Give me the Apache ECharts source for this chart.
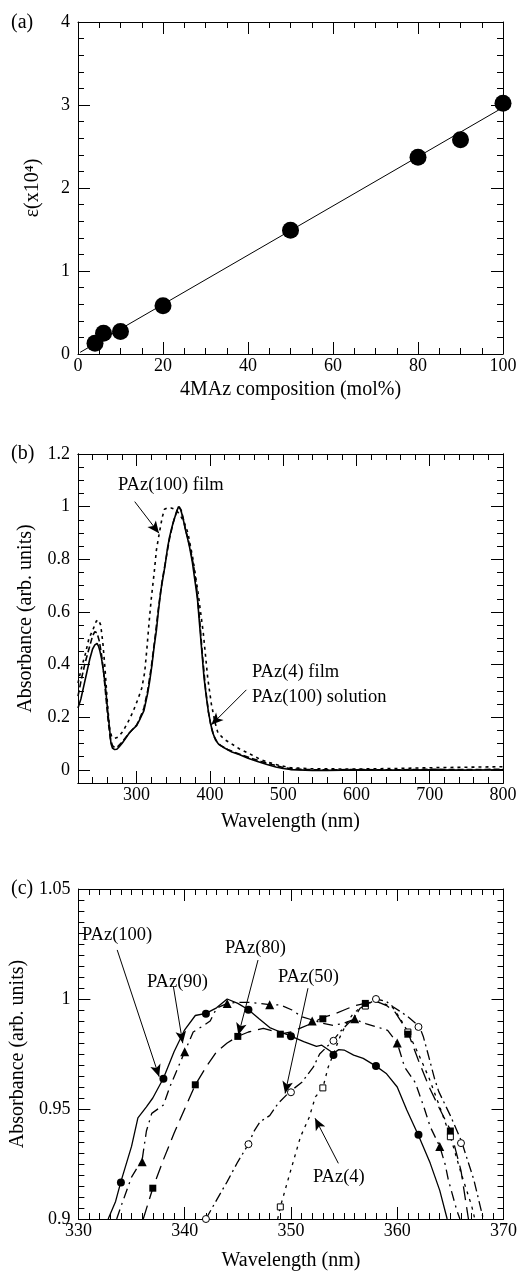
<!DOCTYPE html>
<html><head><meta charset="utf-8">
<script src="https://cdn.jsdelivr.net/npm/echarts@6/dist/echarts.min.js"></script>
<style>html,body{margin:0;padding:0;background:#fff}#c{width:520px;height:1272px}</style>
</head><body><div id="c"></div>
<script>
const FONT = '"Liberation Serif","DejaVu Serif","Times New Roman",serif';

// ---------- Panel (a) ----------
const aComposition = [4, 6, 10, 20, 50, 80, 90, 100];
const aEpsilon = [0.13, 0.25, 0.27, 0.58, 1.49, 2.37, 2.58, 3.02];
const aFitX = [0.5, 100];
const aFitY = [0.02, 2.97];
const aXTicks = [0, 20, 40, 60, 80, 100];
const aYTicks = [0, 1, 2, 3, 4];

// ---------- Panel (b) ----------
const bFilm4Wl = [220,224,228,232,236,240,243,246,248,250,252,255,258,261,263,265,267,270,273,276,280,285,290,295,300,305,310,315,318,321,324,327,330,333,336,339,342,345,348,351,354,357,360,363,366,369,372,376,380,383,386,389,392,395,398,401,404,408,412,420,430,440,452,465,478,490,500,510,520,540,560,600,650,700,750,800];
const bFilm4Abs = [0.235,0.27,0.32,0.37,0.42,0.46,0.475,0.48,0.47,0.45,0.425,0.37,0.30,0.21,0.16,0.10,0.083,0.077,0.078,0.087,0.10,0.12,0.14,0.155,0.168,0.195,0.225,0.29,0.34,0.40,0.47,0.53,0.61,0.68,0.73,0.78,0.84,0.885,0.92,0.95,0.975,1.0,0.99,0.96,0.92,0.885,0.85,0.79,0.71,0.65,0.55,0.45,0.35,0.28,0.22,0.175,0.14,0.112,0.097,0.083,0.068,0.058,0.044,0.032,0.02,0.011,0.005,0.001,0,-0.002,-0.002,0,-0.001,0,-0.001,0];
const bSol100Wl = [220,225,230,236,240,243,246,249,252,255,258,261,264,267,270,275,280,290,300,305,310,315,320,325,330,335,340,345,350,355,358,361,364,367,370,374,378,382,386,390,394,398,402,406,410,415,425,440,455,470,485,500,515,530,560,600,650,700,750,800];
const bSol100Abs = [0.28,0.35,0.41,0.47,0.51,0.525,0.52,0.49,0.44,0.37,0.28,0.19,0.12,0.092,0.085,0.09,0.105,0.14,0.17,0.2,0.235,0.30,0.39,0.50,0.62,0.72,0.80,0.88,0.94,0.985,1.0,0.985,0.95,0.91,0.88,0.83,0.77,0.69,0.57,0.43,0.31,0.22,0.16,0.125,0.105,0.092,0.076,0.06,0.045,0.032,0.02,0.009,0.003,0.001,0,0.001,0,0.002,0.001,0.002];
const bFilm100Wl = [220,225,230,235,240,245,248,251,254,257,260,263,266,270,275,281,288,295,302,307,311,314,317,320,324,327,331,335,338,342,347,352,356,360,365,370,377,384,391,397,402,407,411,420,429,440,452,470,490,510,540,600,650,700,750,800];
const bFilm100Abs = [0.33,0.39,0.44,0.50,0.53,0.565,0.57,0.55,0.48,0.38,0.26,0.16,0.125,0.12,0.125,0.145,0.18,0.22,0.27,0.31,0.37,0.46,0.56,0.65,0.75,0.835,0.90,0.96,0.99,0.995,0.995,0.99,0.98,0.965,0.94,0.90,0.80,0.67,0.52,0.35,0.25,0.18,0.14,0.115,0.10,0.08,0.064,0.038,0.02,0.008,0.004,0.003,0.005,0.008,0.01,0.012];
const bXTicks = [300, 400, 500, 600, 700, 800];
const bYTicks = [0, 0.2, 0.4, 0.6, 0.8, 1, 1.2];
const bArrows = [[[297.4, 1.019], [330.5, 0.899]], [[449.8, 0.304], [402.0, 0.171]]];

// ---------- Panel (c) ----------
const c100Wl = [332.8,333.5,334,335,335.6,336.4,337,338,339,340,341,342,343,344,345,346,347,348,349,350,351.2,352.4,352.9,354,354.5,355,355.9,356.8,358,359,360,360.9,362,363.1,364,364.7];
const c100Abs = [0.9,0.908,0.917,0.933,0.946,0.951,0.955,0.964,0.976,0.986,0.9925,0.9935,0.996,1.0,0.998,0.9951,0.991,0.987,0.985,0.9831,0.9806,0.9785,0.979,0.9753,0.977,0.9768,0.9745,0.973,0.9695,0.966,0.960,0.9495,0.938,0.9254,0.913,0.9];
const c100MarkWl = [334,338,342,346,350,354,358,362];
const c100MarkAbs = [0.9166,0.9637,0.9933,0.9951,0.9831,0.9746,0.9695,0.9383];
const c90Wl = [333.6,334.1,335,336,336.4,336.9,338,338.6,339.3,340,340.8,341.8,342.4,343,344,345,346,347,348,349,350.1,351,352,353,354,355,356,357.1,358.3,359.1,360,360.7,361.7,362.5,363.1,364,364.5,364.8,365.6,365.9];
const c90Abs = [0.9,0.907,0.919,0.927,0.94,0.948,0.9518,0.960,0.968,0.976,0.985,0.988,0.990,0.9958,0.998,0.9985,0.9985,0.998,0.9974,0.9973,0.995,0.992,0.9905,0.989,0.988,0.989,0.9908,0.9887,0.987,0.9857,0.980,0.969,0.962,0.951,0.942,0.933,0.925,0.918,0.904,0.9];
const c90MarkWl = [336,340,344,348,352,356,360,364];
const c90MarkAbs = [0.926,0.976,0.998,0.9974,0.990,0.991,0.980,0.933];
const c80Wl = [336.1,337,338,339,340,341,342,343,344,345,346,347.4,348.7,349,350,351,352,353,354,355,356,357,358,359,359.8,361,362,363,364,365,366,366.7];
const c80Abs = [0.9,0.914,0.927,0.939,0.950,0.961,0.969,0.976,0.980,0.983,0.985,0.9866,0.985,0.984,0.985,0.987,0.989,0.9917,0.993,0.995,0.997,0.998,0.999,0.997,0.994,0.985,0.972,0.960,0.950,0.9405,0.922,0.9];
const c80MarkWl = [337,341,345,349,353,357,361,365];
const c80MarkAbs = [0.914,0.961,0.983,0.984,0.991,0.998,0.984,0.940];
const c50Wl = [342,343,344,345,346,346.5,347.1,348,348.8,349.9,351,352.1,352.7,354,354.6,355.4,355.9,356.5,358,359,359.6,361,362.1,362.45,362.9,363.5,363.9,365,366.07,366.4,367.2,368.1];
const c50Abs = [0.9,0.9086,0.917,0.926,0.934,0.9397,0.9442,0.947,0.9526,0.9579,0.962,0.969,0.975,0.9813,0.985,0.989,0.991,0.9958,1.0,0.9988,0.9965,0.992,0.9874,0.983,0.975,0.964,0.958,0.947,0.9351,0.93,0.918,0.9];
const c50MarkWl = [342,346,350,354,358,362,366];
const c50MarkAbs = [0.900,0.934,0.9576,0.981,1.0,0.9873,0.9345];
const c4Wl = [348.75,349,349.9,350.9,351.7,352.3,353,353.5,354,354.6,355.2,355.8,356.5,357,357.7,358.7,359.6,360.3,361,362,363,364,365,366,367,367.3];
const c4Abs = [0.9,0.9055,0.9208,0.9374,0.946,0.9555,0.9596,0.969,0.975,0.9826,0.9887,0.993,0.996,0.9968,0.999,0.998,0.996,0.991,0.985,0.975,0.964,0.951,0.9374,0.921,0.906,0.9];
const c4MarkWl = [349,353,357,361,365];
const c4MarkAbs = [0.9055,0.9596,0.9968,0.985,0.9374];
const cXTicks = [330, 340, 350, 360, 370];
const cYTicks = [0.9, 0.95, 1, 1.05];
const cArrows = [
  [[333.65, 1.0223], [337.6, 0.9647]],
  [[338.94, 1.0056], [339.82, 0.9799]],
  [[346.9, 1.0177], [345.05, 0.9836]],
  [[351.6, 1.0049], [349.45, 0.9571]],
  [[354.46, 0.9253], [352.27, 0.9458]]
];

// ---------- build ----------
const zip = (a, b) => a.map((v, i) => [v, b[i]]);
const chart = echarts.init(document.getElementById('c'), null, {renderer: 'canvas', width: 520, height: 1272});

const grids = [
  {left: 78, top: 22, width: 425, height: 332},
  {left: 78, top: 454, width: 425, height: 329},
  {left: 78, top: 889, width: 426, height: 330}
];

const xAxes = [], yAxes = [];
const ls = () => ({color: '#000', width: 1});
function nameOpts(cfg) {
  return {name: cfg.name, nameLocation: 'middle', nameGap: cfg.nameGap,
    nameTextStyle: {fontFamily: FONT, fontSize: 20, color: '#000'}};
}
function addStd(list, gi, dim, cfg) {
  const base = list.length;
  const sides = dim === 'x' ? ['bottom', 'top'] : ['left', 'right'];
  sides.forEach((pos, si) => {
    const a = {
      gridIndex: gi, type: 'value', position: pos, min: cfg.min, max: cfg.max, interval: cfg.major,
      splitLine: {show: false},
      axisLine: {show: true, onZero: false, lineStyle: ls()},
      axisTick: {show: true, inside: true, length: 12, lineStyle: ls()},
      minorTick: {show: true, splitNumber: cfg.split, length: 6, lineStyle: ls()},
      axisLabel: si === 0 ? {show: true, fontFamily: FONT, fontSize: 18, color: '#000', margin: cfg.margin} : {show: false}
    };
    if (si === 0 && cfg.name) Object.assign(a, nameOpts(cfg));
    list.push(a);
  });
  return base;
}
function addCustom(list, gi, dim, cfg) {
  const base = list.length;
  const sides = dim === 'x' ? ['bottom', 'top'] : ['left', 'right'];
  sides.forEach((pos, si) => {
    list.push({
      gridIndex: gi, type: 'value', position: pos, min: cfg.min, max: cfg.max, interval: cfg.minor,
      splitLine: {show: false},
      axisLine: {show: true, onZero: false, lineStyle: ls()},
      axisTick: {show: true, inside: true, length: 6, lineStyle: ls()},
      axisLabel: {show: false}
    });
    const major = {
      gridIndex: gi, type: 'value', position: pos, min: cfg.min, max: cfg.max,
      splitLine: {show: false},
      axisLine: {show: true, onZero: false, lineStyle: ls()},
      axisTick: {show: true, inside: true, length: 12, customValues: cfg.majors, lineStyle: ls()},
      axisLabel: si === 0 ? {show: true, customValues: cfg.majors, fontFamily: FONT, fontSize: 18, color: '#000', margin: cfg.margin} : {show: false}
    };
    if (si === 0 && cfg.name) Object.assign(major, nameOpts(cfg));
    list.push(major);
  });
  return base;
}

const ax = addStd(xAxes, 0, 'x', {min: aXTicks[0], max: aXTicks[aXTicks.length - 1], major: 20, split: 4, margin: 3, name: '4MAz composition (mol%)', nameGap: 26});
const ay = addStd(yAxes, 0, 'y', {min: aYTicks[0], max: aYTicks[aYTicks.length - 1], major: 1, split: 5, margin: 8, name: 'ε(x10⁴)', nameGap: 35});
const bx = addCustom(xAxes, 1, 'x', {min: 220, max: 800, minor: 20, majors: bXTicks, margin: 3, name: 'Wavelength (nm)', nameGap: 29});
const by = addCustom(yAxes, 1, 'y', {min: -0.05, max: 1.2, minor: 0.05, majors: bYTicks, margin: 8, name: 'Absorbance (arb. units)', nameGap: 42});
const cx = addStd(xAxes, 2, 'x', {min: cXTicks[0], max: cXTicks[cXTicks.length - 1], major: 10, split: 10, margin: 3, name: 'Wavelength (nm)', nameGap: 32});
const cy = addStd(yAxes, 2, 'y', {min: cYTicks[0], max: cYTicks[cYTicks.length - 1], major: 0.05, split: 10, margin: 8, name: 'Absorbance (arb. units)', nameGap: 42});

function lineS(xi, yi, data, type, width) {
  return {type: 'line', xAxisIndex: xi, yAxisIndex: yi, data: data, showSymbol: false, symbol: 'none',
    lineStyle: {color: '#000', width: width, type: type}, silent: true, z: 3};
}
// markers drawn as symbols of a line series whose line is invisible
function markS(xi, yi, data, symbol, size, fill) {
  return {type: 'line', xAxisIndex: xi, yAxisIndex: yi, data: data, showSymbol: true, showAllSymbol: true,
    symbol: symbol, symbolSize: size, lineStyle: {opacity: 0, width: 1},
    itemStyle: {color: fill, borderColor: '#000', borderWidth: fill === '#000' ? 0 : 1, opacity: 1},
    silent: true, z: 5};
}
// arrows: two-point line series, arrow head symbol at the end
function arrowS(xi, yi, arrow, rot) {
  return {type: 'line', xAxisIndex: xi, yAxisIndex: yi, silent: true, z: 6, showSymbol: true, showAllSymbol: true,
    lineStyle: {color: '#000', width: 1, type: 'solid'}, itemStyle: {color: '#000', borderWidth: 0, opacity: 1},
    data: [{value: arrow[0], symbol: 'none'}, {value: arrow[1], symbol: 'arrow', symbolSize: [8, 12], symbolRotate: rot}]};
}

function txt(t, x, yc, size) {
  return {text: t, left: x, top: yc - size / 2, padding: 0,
    textStyle: {fontFamily: FONT, fontSize: size, fontWeight: 'normal', color: '#000', lineHeight: size}};
}
const titles = [
  txt('(a)', 11, 23, 20), txt('(b)', 11, 454, 20), txt('(c)', 11, 889, 20),
  txt('PAz(100) film', 118, 485, 18.5),
  txt('PAz(4) film', 252, 672, 18.5),
  txt('PAz(100) solution', 252, 697, 18.5),
  txt('PAz(100)', 82, 935, 18.5),
  txt('PAz(90)', 147, 982, 18.5),
  txt('PAz(80)', 225, 948, 18.5),
  txt('PAz(50)', 278, 977, 18.5),
  txt('PAz(4)', 313, 1177, 18.5)
];

function buildSeries(rotB, rotC) {
  const s = [
    lineS(ax, ay, zip(aFitX, aFitY), 'solid', 1),
    markS(ax, ay, zip(aComposition, aEpsilon), 'circle', 17, '#000'),

    lineS(bx, by, zip(bFilm4Wl, bFilm4Abs), 'solid', 1.6),
    lineS(bx, by, zip(bSol100Wl, bSol100Abs), [6, 3], 1.6),
    lineS(bx, by, zip(bFilm100Wl, bFilm100Abs), [3, 4], 1.6),

    lineS(cx, cy, zip(c100Wl, c100Abs), 'solid', 1.3),
    lineS(cx, cy, zip(c90Wl, c90Abs), [10, 5, 2, 5], 1.3),
    lineS(cx, cy, zip(c80Wl, c80Abs), [14, 7], 1.3),
    lineS(cx, cy, zip(c50Wl, c50Abs), [10, 4, 2, 4], 1.3),
    lineS(cx, cy, zip(c4Wl, c4Abs), [3, 5], 1.3),
    markS(cx, cy, zip(c4MarkWl, c4MarkAbs), 'rect', 6, '#fff'),
    markS(cx, cy, zip(c50MarkWl, c50MarkAbs), 'circle', 7, '#fff'),
    markS(cx, cy, zip(c100MarkWl, c100MarkAbs), 'circle', 8, '#000'),
    markS(cx, cy, zip(c90MarkWl, c90MarkAbs), 'triangle', 9, '#000'),
    markS(cx, cy, zip(c80MarkWl, c80MarkAbs), 'rect', 7, '#000')
  ];
  bArrows.forEach((a, k) => s.push(arrowS(bx, by, a, rotB[k])));
  cArrows.forEach((a, k) => s.push(arrowS(cx, cy, a, rotC[k])));
  return s;
}

function option(rotB, rotC) {
  return {
    backgroundColor: '#fff',
    animation: false,
    title: titles,
    grid: grids,
    xAxis: xAxes,
    yAxis: yAxes,
    series: buildSeries(rotB, rotC)
  };
}

chart.setOption(option(bArrows.map(() => 0), cArrows.map(() => 0)));
// orient arrow heads along each arrow in pixel space
function rotations(arrows, gi) {
  return arrows.map(a => {
    const p0 = chart.convertToPixel({gridIndex: gi}, a[0]);
    const p1 = chart.convertToPixel({gridIndex: gi}, a[1]);
    return Math.atan2(-(p1[1] - p0[1]), p1[0] - p0[0]) * 180 / Math.PI - 90;
  });
}
chart.setOption(option(rotations(bArrows, 1), rotations(cArrows, 2)), true);
</script>
</body></html>
